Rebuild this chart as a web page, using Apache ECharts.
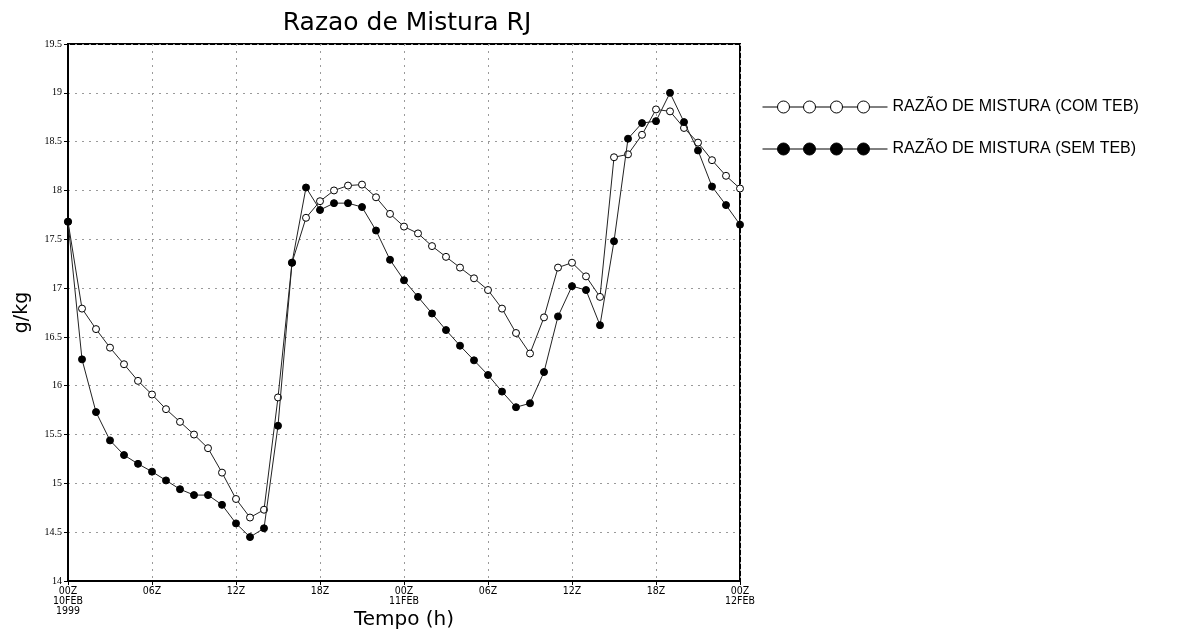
<!DOCTYPE html>
<html>
<head>
<meta charset="utf-8">
<script src="https://cdn.jsdelivr.net/npm/echarts@6/dist/echarts.min.js"></script>
<style>html,body{margin:0;padding:0;background:#fff}#c{width:1196px;height:633px}</style>
</head>
<body>
<div id="c"></div>
<script>
// hours from 00Z 10FEB1999
const hours = [0,1,2,3,4,5,6,7,8,9,10,11,12,13,14,15,16,17,18,19,20,21,22,23,24,25,26,27,28,29,30,31,32,33,34,35,36,37,38,39,40,41,42,43,44,45,46,47,48];
const comTEB = [17.68,16.79,16.58,16.39,16.22,16.05,15.91,15.76,15.63,15.50,15.36,15.11,14.84,14.65,14.73,15.88,17.26,17.72,17.89,18.00,18.05,18.06,17.93,17.76,17.63,17.56,17.43,17.32,17.21,17.10,16.98,16.79,16.54,16.33,16.70,17.21,17.26,17.12,16.91,18.34,18.37,18.57,18.83,18.81,18.64,18.49,18.31,18.15,18.02];
const semTEB = [17.68,16.27,15.73,15.44,15.29,15.20,15.12,15.03,14.94,14.88,14.88,14.78,14.59,14.45,14.54,15.59,17.26,18.03,17.80,17.87,17.87,17.83,17.59,17.29,17.08,16.91,16.74,16.57,16.41,16.26,16.11,15.94,15.78,15.82,16.14,16.71,17.02,16.98,16.62,17.48,18.53,18.69,18.71,19.00,18.70,18.41,18.04,17.85,17.65];
const xTickLabels = ['00Z\n10FEB\n1999','06Z','12Z','18Z','00Z\n11FEB','06Z','12Z','18Z','00Z\n12FEB'];
const seriesNames = ['RAZÃO DE MISTURA (COM TEB)','RAZÃO DE MISTURA (SEM TEB)'];

const legendIcon = 'path://M0 6.5 L15 6.5 M27 6.5 L41 6.5 M53 6.5 L68 6.5 M80 6.5 L95 6.5 M107 6.5 L125 6.5 ' +
  'M27 6.5 A6 6 0 1 0 15 6.5 A6 6 0 1 0 27 6.5 Z ' +
  'M53 6.5 A6 6 0 1 0 41 6.5 A6 6 0 1 0 53 6.5 Z ' +
  'M80 6.5 A6 6 0 1 0 68 6.5 A6 6 0 1 0 80 6.5 Z ' +
  'M107 6.5 A6 6 0 1 0 95 6.5 A6 6 0 1 0 107 6.5 Z';

const chart = echarts.init(document.getElementById('c'), null, {renderer:'canvas'});
const gridDot = {color:'#9a9a9a', width:1, type:[2,5]};
chart.setOption({
  animation:false,
  backgroundColor:'#fff',
  title:{text:'Razao de Mistura RJ', left:402, textAlign:'center', top:6,
    textStyle:{fontFamily:'DejaVu Sans', fontSize:25, fontWeight:'normal', color:'#000'}},
  grid:{left:68, right:456, top:44, bottom:52, show:true, borderColor:'#000', borderWidth:2,
    backgroundColor:'transparent', outerBoundsMode:'none', containLabel:false},
  legend:{orient:'vertical', left:757, top:94, itemGap:26, itemWidth:125, itemHeight:12,
    textStyle:{fontFamily:'Liberation Sans', fontSize:16, color:'#000'},
    data:[
      {name:seriesNames[0], icon:legendIcon, itemStyle:{color:'#fff', borderColor:'#000', borderWidth:1}},
      {name:seriesNames[1], icon:legendIcon, itemStyle:{color:'#000', borderColor:'#000', borderWidth:1}}
    ]},
  xAxis:{type:'value', min:0, max:48, interval:6,
    name:'Tempo (h)', nameLocation:'middle', nameGap:29, nameMoveOverlap:false,
    nameTextStyle:{fontFamily:'DejaVu Sans', fontSize:20, color:'#000'},
    axisLine:{lineStyle:{color:'#000', width:2}},
    axisTick:{show:true, length:4, lineStyle:{color:'#000'}},
    axisLabel:{margin:5, fontFamily:'DejaVu Sans Condensed', fontSize:10.5, lineHeight:10, color:'#000',
      formatter:v=>xTickLabels[Math.round(v/6)]},
    splitLine:{show:true, lineStyle:gridDot}},
  yAxis:{type:'value', min:14, max:19.5, interval:0.5,
    name:'g/kg', nameLocation:'middle', nameGap:36, nameRotate:90, nameMoveOverlap:false,
    nameTextStyle:{fontFamily:'DejaVu Sans', fontSize:19, color:'#000'},
    axisLine:{show:true, lineStyle:{color:'#000', width:2}},
    axisTick:{show:true, length:4, lineStyle:{color:'#000'}},
    axisLabel:{margin:6, fontFamily:'Liberation Sans Narrow', fontSize:10, color:'#000'},
    splitLine:{show:true, lineStyle:gridDot}},
  series:[
    {name:seriesNames[0], type:'line', data:hours.map((h,i)=>[h, comTEB[i]]),
      symbol:'circle', symbolSize:7, showSymbol:true,
      lineStyle:{color:'#222', width:1},
      itemStyle:{color:'#fff', borderColor:'#000', borderWidth:1},
      emphasis:{disabled:true}, z:2},
    {name:seriesNames[1], type:'line', data:hours.map((h,i)=>[h, semTEB[i]]),
      symbol:'circle', symbolSize:7, showSymbol:true,
      lineStyle:{color:'#222', width:1},
      itemStyle:{color:'#000', borderColor:'#000', borderWidth:1},
      emphasis:{disabled:true}, z:3}
  ]
});
</script>
</body>
</html>
